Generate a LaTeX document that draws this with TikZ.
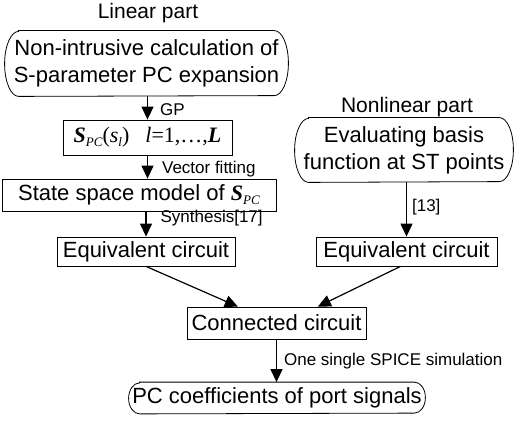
\documentclass[tikz,border=0pt]{standalone}
\usepackage{fontspec}
\setmainfont{Liberation Sans}
\newfontfamily\tnr{Liberation Serif}
\usetikzlibrary{arrows.meta,calc}
\newcommand{\spc}{{\tnr\textbf{\textit{S}}\raisebox{-4pt}{\fontsize{13}{14}\selectfont\textit{PC}}}}
\newcommand{\stadium}[3]{%
 \draw[line width=0.8pt] ($(#1.north west)+(#2,0)$) -- ($(#1.north east)+(-#2,0)$)
   arc[start angle=90,end angle=-90,x radius=#2pt,y radius=#3pt]
   -- ($(#1.south west)+(#2,0)$)
   arc[start angle=270,end angle=90,x radius=#2pt,y radius=#3pt] -- cycle;}
\begin{document}
\begin{tikzpicture}[x=1pt,y=-1pt,
 box/.style={draw,line width=0.8pt,inner sep=0pt,align=center,font=\fontsize{22}{27}\selectfont},
 rbox/.style={box,draw=none},
 lab/.style={font=\fontsize{17}{19}\selectfont,inner sep=0pt},
 arr/.style={-{Triangle[length=13pt,width=12pt]},line width=1.2pt},
 ttl/.style={font=\fontsize{21}{24}\selectfont}]
\useasboundingbox (0,0) rectangle (514,422);
\node[ttl] (lt) at (148,13) {Linear part};
\node[rbox,minimum width=283pt,minimum height=65pt] (a) at (146.5,63.5) {Non-intrusive calculation of\\S-parameter PC expansion};
\stadium{a}{14}{32.5}
\node[box,minimum width=169pt,minimum height=35pt] (b) at (147.5,137.5) {\spc{\tnr(\textit{s}\raisebox{-4pt}{\fontsize{13}{14}\selectfont\textit{l}})\hspace{16pt}\textit{l}=1,\ldots,\textbf{\textit{L}}}};
\node[box,minimum width=274pt,minimum height=32pt] (c) at (139,195) {State space model of \spc};
\node[box,minimum width=178pt,minimum height=29pt] (d) at (146,251.5) {Equivalent circuit};
\node[ttl] (nt) at (407,107) {Nonlinear part};
\node[rbox,minimum width=218pt,minimum height=64pt] (e) at (404,150) {Evaluating basis\\function at ST points};
\stadium{e}{14}{32}
\node[box,minimum width=181pt,minimum height=29pt] (f) at (406.5,251.5) {Equivalent circuit};
\node[box,minimum width=179pt,minimum height=32pt] (g) at (276.5,323) {Connected circuit};
\node[rbox,minimum width=296pt,minimum height=31pt] (h) at (277,398) {PC coefficients of port signals};
\stadium{h}{11}{15.5}
\draw[arr] (b.north |- a.south) -- node[lab,right=12pt,pos=0.55] {GP} (b.north);
\draw[arr] (b.south) -- node[lab,right=14pt,pos=0.6] {Vector fitting} (b.south |- c.north);
\draw[arr] (d.north |- c.south) -- node[lab,right=14pt,pos=0.25] {Synthesis[17]} (d.north);
\draw[arr] (e.south -| f.north) -- node[lab,right=5pt,pos=0.45] {[13]} (f.north);
\coordinate (gl) at ($(g.north west)!0.285!(g.north east)$);
\coordinate (gr) at ($(g.north west)!0.73!(g.north east)$);
\draw[arr] (d.south) -- (gl);
\draw[arr] ($(f.south)+(-6,0)$) -- (gr);
\draw[arr] (g.south) -- node[lab,right=7pt,pos=0.5] {One single SPICE simulation} (g.south |- h.north);
\end{tikzpicture}
\end{document}
